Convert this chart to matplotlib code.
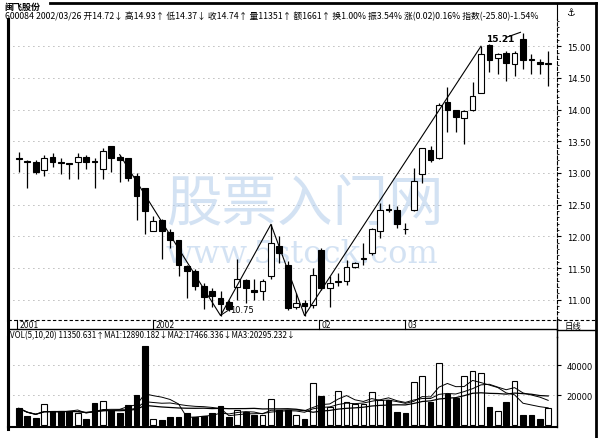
import numpy as np
import pandas as pd
import matplotlib
matplotlib.use("Agg")
import matplotlib.pyplot as plt
from matplotlib.lines import Line2D

plt.rcParams['font.family'] = ['Noto Sans CJK SC', 'DejaVu Sans']

# --- datos (64 velas diarias) ---
opens = [13.24, 13.18, 13.17, 13.04, 13.26, 13.18, 13.15, 13.17, 13.25, 13.18,
         13.07, 13.42, 13.25, 13.24, 12.95, 12.76, 12.09, 12.26, 12.07, 11.95,
         11.53, 11.45, 11.22, 11.13, 11.03, 10.97, 11.20, 11.31, 11.15, 11.13,
         11.38, 11.84, 11.55, 10.88, 10.95, 10.92, 11.79, 11.18, 11.28, 11.30,
         11.51, 11.64, 11.73, 12.08, 12.43, 12.42, 12.12, 12.42, 12.98, 13.37,
         13.24, 14.12, 13.99, 13.86, 13.99, 14.27, 15.02, 14.82, 14.89, 14.72,
         15.11, 14.80, 14.75, 14.72]
highs = [13.33, 13.20, 13.20, 13.29, 13.31, 13.23, 13.16, 13.31, 13.28, 13.23,
         13.40, 13.42, 13.29, 13.24, 13.00, 12.76, 12.32, 12.28, 12.11, 11.95,
         11.55, 11.48, 11.26, 11.18, 11.13, 11.00, 11.65, 11.32, 11.32, 11.32,
         12.19, 12.00, 11.61, 11.10, 11.00, 11.50, 11.82, 11.37, 11.42, 11.63,
         11.60, 11.89, 12.13, 12.52, 12.51, 12.48, 12.21, 13.08, 13.40, 13.42,
         14.10, 14.35, 13.99, 14.00, 14.43, 15.00, 15.03, 14.90, 14.93, 14.93,
         15.21, 14.87, 14.80, 14.93]
lows = [13.01, 12.77, 12.99, 12.96, 13.10, 12.98, 12.91, 12.91, 13.07, 12.77,
        12.91, 13.01, 12.86, 12.87, 12.26, 12.03, 12.08, 11.64, 11.82, 11.37,
        11.03, 11.16, 10.86, 10.89, 10.75, 10.82, 10.99, 10.95, 10.99, 11.00,
        11.32, 11.58, 10.84, 10.85, 10.75, 10.87, 11.16, 10.89, 11.21, 11.24,
        11.50, 11.55, 11.71, 11.97, 12.38, 12.13, 12.03, 12.40, 12.84, 13.17,
        13.22, 13.65, 13.65, 13.45, 13.98, 14.27, 14.59, 14.56, 14.45, 14.53,
        14.64, 14.56, 14.56, 14.37]
closes = [13.22, 13.17, 13.01, 13.23, 13.18, 13.15, 13.14, 13.26, 13.18, 13.17,
          13.35, 13.23, 13.21, 12.92, 12.63, 12.40, 12.24, 12.08, 11.95, 11.55,
          11.46, 11.22, 11.05, 11.06, 10.94, 10.86, 11.33, 11.19, 11.12, 11.30,
          11.90, 11.73, 10.87, 10.95, 10.90, 11.39, 11.18, 11.26, 11.29, 11.51,
          11.58, 11.65, 12.11, 12.42, 12.42, 12.19, 12.11, 12.88, 13.40, 13.21,
          14.08, 14.00, 13.88, 13.98, 14.22, 14.87, 14.79, 14.87, 14.74, 14.89,
          14.79, 14.79, 14.72, 14.74]
volumes = [11100, 6000, 4400, 14000, 9300, 9300, 9300, 8200, 3800, 14400,
           16000, 10000, 8200, 13300, 20000, 52600, 3800, 3300, 5500, 5100,
           7800, 5100, 6000, 8200, 12600, 5100, 10000, 8900, 6700, 6700,
           17100, 10000, 10000, 6700, 3800, 28200, 19500, 12200, 22900, 15500,
           14000, 14000, 21800, 16700, 16700, 8900, 8200, 28400, 32600, 15500,
           41700, 20400, 17800, 32900, 36000, 34400, 12200, 9500, 15100, 29500,
           6400, 6400, 3800, 11351]

price_ticks = [11.0, 11.5, 12.0, 12.5, 13.0, 13.5, 14.0, 14.5, 15.0]
vol_ticks = [20000, 40000]
# puntos de giro de la linea en zigzag (indice, usar maximo?)
zig_points = [(12, True), (24, False), (30, True), (34, False), (55, True)]
date_labels = [(0, "2001"), (16.2, "2002"), (36, "02"), (46.2, "03")]

title = "闽飞股份"
header = ("600084 2002/03/26 开14.72↓ 高14.93↑ 低14.37↓ 收14.74↑ 量11351↑ 额1661↑ "
          "换1.00% 振3.54% 涨(0.02)0.16% 指数(-25.80)-1.54%")
vol_header = "VOL(5,10,20) 11350.631↑MA1:12890.182↓MA2:17466.336↓MA3:20295.232↓"

W, H = 600, 439


def fx(px):
    return px / W


def fy(py):
    return 1 - py / H


fig = plt.figure(figsize=(6, 4.39), dpi=100)
fig.patch.set_facecolor('white')

n = len(opens)
x = np.arange(n)
up = np.array(closes) >= np.array(opens)

# --- panel de precios ---
ax = fig.add_axes([fx(8), fy(321), fx(557 - 8), (321 - 20) / H])
ax.set_xlim(-1.3, 64.05)
ax.set_ylim(10.68, 15.43)
for p in price_ticks:
    ax.axhline(p, color='#777777', lw=0.6, ls=(0, (1, 5)), zorder=0)

ax.vlines(x, lows, highs, color='black', lw=0.9, zorder=2)
body_bottom = np.minimum(opens, closes)
body_h = np.maximum(np.abs(np.array(closes) - np.array(opens)), 0.012)
ax.bar(x, body_h, bottom=body_bottom, width=0.68,
       color=np.where(up, 'white', 'black'), edgecolor='black', lw=0.8, zorder=3)

zx = [i for i, _ in zig_points]
zy = [highs[i] if hi else lows[i] for i, hi in zig_points]
ax.plot(zx, zy, color='black', lw=0.8, zorder=4)
ax.plot([24.2, 25.0], [10.77, 10.84], color='black', lw=0.7)
ax.text(25.1, 10.84, "10.75", fontsize=6, va='center', family='DejaVu Sans')
ax.text(55.6, 15.12, "15.21", fontsize=6.5, va='center', fontweight='bold', family='DejaVu Sans')
ax.plot([58.0, 59.7], [15.14, 15.22], color='black', lw=0.8)

ax.yaxis.tick_right()
ax.set_yticks(price_ticks)
ax.set_yticklabels([f"{p:.2f}" for p in price_ticks], fontsize=6, family='DejaVu Sans')
ax.set_yticks(np.arange(10.7, 15.45, 0.1), minor=True)
ax.tick_params(axis='y', which='major', length=3, width=0.8, pad=4)
ax.tick_params(axis='y', which='minor', length=1.5, width=0.6)
ax.set_xticks([])
for s in ['top', 'bottom']:
    ax.spines[s].set_visible(False)
ax.spines['left'].set_linewidth(2.2)
ax.spines['right'].set_linestyle((0, (3, 2)))
ax.spines['right'].set_linewidth(0.8)

# marca de agua
ax.text(0.54, 0.385, "股票入门网", transform=ax.transAxes, fontsize=40, color='#a9c6e8',
        alpha=0.5, ha='center', va='center', style='italic', zorder=1)
ax.text(0.536, 0.22, "www.5stock.com", transform=ax.transAxes, fontsize=23, color='#a9c6e8',
        alpha=0.5, ha='center', va='center', family='DejaVu Serif', zorder=1)

# --- panel de volumen ---
vax = fig.add_axes([fx(8), fy(428), fx(557 - 8), (428 - 338) / H])
vax.set_xlim(-1.3, 64.05)
vax.set_ylim(-1300, 58700)
for v in vol_ticks:
    vax.axhline(v, color='#777777', lw=0.6, ls=(0, (1, 5)), zorder=0)
vax.bar(x, volumes, width=0.68, color=np.where(up, 'white', 'black'),
        edgecolor='black', lw=0.8, zorder=3)
vol_s = pd.Series(volumes, dtype=float)
for w, lw in [(5, 0.7), (10, 0.7), (20, 0.9)]:
    vax.plot(x, vol_s.rolling(w, min_periods=1).mean(), color='black', lw=lw, zorder=4)
vax.yaxis.tick_right()
vax.set_yticks(vol_ticks)
vax.set_yticklabels([str(v) for v in vol_ticks], fontsize=6, family='DejaVu Sans')
vax.tick_params(axis='y', length=3, width=0.8, pad=4)
vax.set_xticks([])
vax.spines['top'].set_visible(False)
vax.spines['left'].set_linewidth(2.2)
vax.spines['bottom'].set_linewidth(1.5)
vax.spines['right'].set_linewidth(1.0)

# --- textos y marco ---
fig.text(fx(4), fy(7), title, fontsize=6.5, fontweight='bold', va='center')
fig.text(fx(5), fy(16), header, fontsize=6.3, va='center')
fig.text(fx(10), fy(336), vol_header, fontsize=5.75, va='center')
fig.text(fx(566), fy(13), "⚓", fontsize=7, va='center', family='DejaVu Sans')

for i, lab in date_labels:
    xp = 19 + 8.4 * i
    fig.text(fx(xp), fy(326), lab, fontsize=5.5, va='center', family='DejaVu Sans')
    fig.add_artist(Line2D([fx(xp - 2), fx(xp - 2)], [fy(321), fy(330)], color='black', lw=0.8))
fig.text(fx(565), fy(326), "日线", fontsize=6, va='center')

lines = [
    ([50, 596], [4, 4], 2.0, '-'),
    ([596, 596], [4, 439], 2.0, '-'),
    ([557, 557], [4, 20], 0.8, '-'),
    ([8, 596], [321, 321], 0.8, (0, (3, 2))),
    ([8, 557], [330, 330], 1.0, '-'),
    ([8, 8], [21, 430], 2.2, '-'),
    ([557, 596], [331, 331], 1.0, '-'),
    ([557, 557], [321, 338], 1.0, '-'),
]
for xs, ys, lw, ls in lines:
    fig.add_artist(Line2D([fx(v) for v in xs], [fy(v) for v in ys], color='black', lw=lw, ls=ls))

fig.savefig("out.png", dpi=100, facecolor='white')
